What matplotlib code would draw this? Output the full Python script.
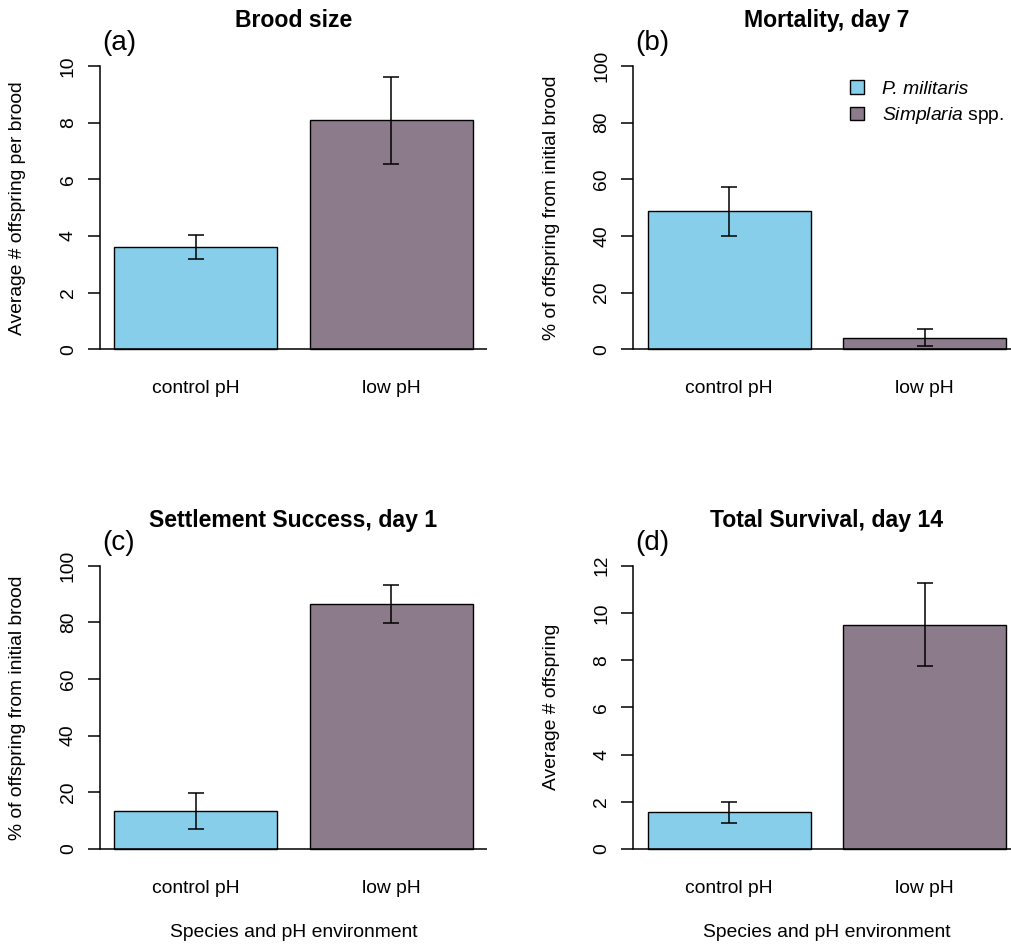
import matplotlib
matplotlib.use("Agg")
import matplotlib.pyplot as plt
from matplotlib.patches import Patch

# data: [control pH, low pH] means and error bar limits
groups = ["control pH", "low pH"]
species = ["P. militaris", "Simplaria spp."]

brood_mean = [3.61, 8.08]
brood_lo = [3.18, 6.54]
brood_hi = [4.05, 9.62]

mort_mean = [48.8, 4.1]
mort_lo = [40.1, 1.2]
mort_hi = [57.3, 7.1]

settle_mean = [13.4, 86.6]
settle_lo = [7.1, 79.7]
settle_hi = [19.7, 93.3]

surv_mean = [1.55, 9.5]
surv_lo = [1.1, 7.75]
surv_hi = [2.0, 11.25]

cols = ["#87CEEB", "#8B7B8B"]

plt.rcParams["font.family"] = ["Liberation Sans", "DejaVu Sans"]
plt.rcParams["mathtext.fontset"] = "custom"
plt.rcParams["mathtext.rm"] = "Liberation Sans"
plt.rcParams["mathtext.it"] = "Liberation Sans:italic"

W, H = 1011, 944
fig = plt.figure(figsize=(W / 100, H / 100), dpi=100)

def px_axes(x0, y0, x1, y1):
    return fig.add_axes([x0 / W, 1 - y1 / H, (x1 - x0) / W, (y1 - y0) / H])

def panel(ax, mean, lo, hi, ymax, step, title, tag, ylab, xlab=None):
    left = [0.2, 1.4]
    mids = [l + 0.5 for l in left]
    ax.bar(left, mean, width=1.0, align="edge", color=cols,
           edgecolor="black", linewidth=1.0, zorder=2)
    yerr = [[m - l for m, l in zip(mean, lo)], [h - m for m, h in zip(mean, hi)]]
    ax.errorbar(mids, mean, yerr=yerr, fmt="none", ecolor="black",
                elinewidth=1.1, capsize=6, capthick=1.1, zorder=3)
    ax.axhline(0, color="black", linewidth=1.1, zorder=3)
    ax.set_xlim(0.112, 2.488)
    ax.set_ylim(-0.04 * ymax, 1.04 * ymax)
    for s in ["top", "right", "bottom"]:
        ax.spines[s].set_visible(False)
    ax.spines["left"].set_bounds(0, ymax)
    ax.spines["left"].set_linewidth(1.1)
    ticks = list(range(0, ymax + 1, step))
    ax.set_yticks(ticks)
    ax.set_yticklabels([str(t) for t in ticks], rotation=90, va="center")
    ax.tick_params(axis="y", length=8.6, width=1.1, labelsize=13.9, pad=8)
    ax.set_xticks(mids)
    ax.set_xticklabels(groups)
    ax.tick_params(axis="x", length=0, labelsize=13.9, pad=14)
    ax.set_title(title, fontsize=16.6, fontweight="bold", pad=20)
    ax.text(0.006, 1.038, tag, transform=ax.transAxes, fontsize=20,
            ha="left", va="center")
    ax.text(-0.212, 0.5, ylab, transform=ax.transAxes, rotation=90,
            fontsize=13.9, ha="center", va="center")
    if xlab:
        ax.text(0.5, -0.235, xlab, transform=ax.transAxes, fontsize=13.9,
                ha="center", va="center")

ax_a = px_axes(100, 54.7, 487, 360.7)
ax_b = px_axes(633.3, 54.7, 1020.3, 360.7)
ax_c = px_axes(100, 554.4, 487, 860.3)
ax_d = px_axes(633.3, 554.4, 1020.3, 860.3)

panel(ax_a, brood_mean, brood_lo, brood_hi, 10, 2, "Brood size", "(a)",
      "Average # offspring per brood")
panel(ax_b, mort_mean, mort_lo, mort_hi, 100, 20, "Mortality, day 7", "(b)",
      "% of offspring from initial brood")
panel(ax_c, settle_mean, settle_lo, settle_hi, 100, 20,
      "Settlement Success, day 1", "(c)",
      "% of offspring from initial brood", "Species and pH environment")
panel(ax_d, surv_mean, surv_lo, surv_hi, 12, 2, "Total Survival, day 14", "(d)",
      "Average # offspring", "Species and pH environment")

handles = [Patch(facecolor=cols[0], edgecolor="black", linewidth=1.0),
           Patch(facecolor=cols[1], edgecolor="black", linewidth=1.0)]
labels = [species[0], r"$\mathit{Simplaria}$ spp."]
leg = ax_b.legend(handles, labels, loc="upper left", frameon=False, fontsize=13.9,
                  bbox_to_anchor=(850 / W, 1 - 80 / H), bbox_transform=fig.transFigure,
                  borderpad=0, borderaxespad=0, handlelength=0.72, handleheight=0.72,
                  handletextpad=0.93, labelspacing=0.4)
leg.get_texts()[0].set_fontstyle("italic")

fig.savefig("out.png", dpi=100)
